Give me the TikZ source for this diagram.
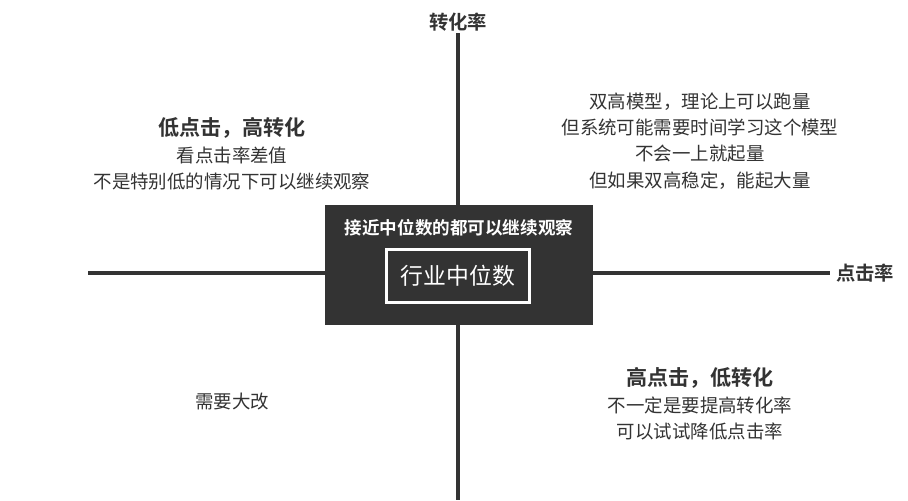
\documentclass[tikz,border=0pt]{standalone}
\usepackage{fontspec}
\newfontfamily\cjk{Noto Sans CJK SC}
\newfontfamily\cjkb{Noto Sans CJK SC Bold}
\definecolor{boxgray}{HTML}{333333}
\tikzset{
  axis/.style={line width=2.2pt, draw=boxgray},
  quad/.style={align=center, font=\cjk\fontsize{10.5}{15}\selectfont, text=boxgray},
  axislabel/.style={font=\cjkb\fontsize{11}{13}\selectfont, text=boxgray}
}
\begin{document}
\begin{tikzpicture}[x=0.02cm, y=-0.02cm]
\useasboundingbox (0,0) rectangle (908,500);
% axes
\node[axislabel] (ylab) at (458,22) {转化率};
\node[axislabel, anchor=west] (xlab) at (830,273) {点击率};
\coordinate (ybot) at (458,500);
\coordinate (xleft) at (88,273);
\draw[axis] (ylab.south) ++(0,-4) -- (ybot);
\draw[axis] (xleft) -- (xlab.west);
% centre box
\node[fill=boxgray, minimum width=268*0.02cm, minimum height=120*0.02cm, inner sep=0pt] (mid) at (459,265) {};
\node[font=\cjkb\fontsize{10}{12}\selectfont, text=white] (midtop) at (459,228) {接近中位数的都可以继续观察};
\node[draw=white, line width=1.2pt, minimum width=143*0.02cm, minimum height=53*0.02cm, font=\cjk\fontsize{13}{15}\selectfont, text=white] (median) at (458,276) {行业中位数};
% quadrants
\node[quad] (tl) at (232,154) {{\cjkb\fontsize{12}{15}\selectfont 低点击，高转化}\\看点击率差值\\不是特别低的情况下可以继续观察};
\node[quad] (tr) at (700,141) {双高模型，理论上可以跑量\\但系统可能需要时间学习这个模型\\不会一上就起量\\但如果双高稳定，能起大量};
\node[quad] (bl) at (232,402) {需要大改};
\node[quad] (br) at (700,404) {{\cjkb\fontsize{12}{15}\selectfont 高点击，低转化}\\不一定是要提高转化率\\可以试试降低点击率};
\end{tikzpicture}
\end{document}
